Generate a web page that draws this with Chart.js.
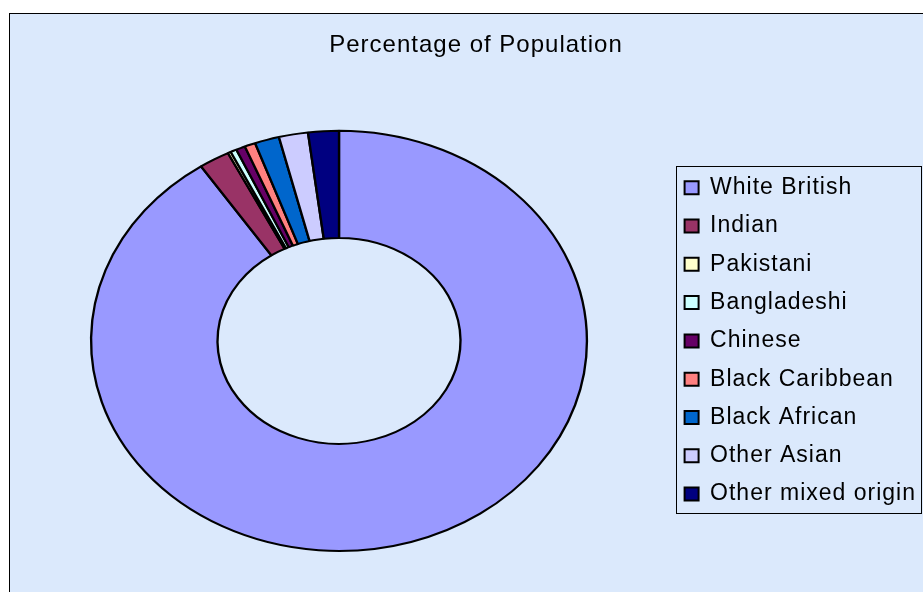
<!DOCTYPE html>
<html>
<head>
<meta charset="utf-8">
<script src="https://cdn.jsdelivr.net/npm/chart.js@4"></script>
<style>
  html, body { margin: 0; padding: 0; background: #fff; }
  #wrap { width: 923px; height: 592px; }
</style>
</head>
<body>
<div id="wrap"><canvas id="myChart"></canvas></div>
<script>
const labels = [
    "White British",
    "Indian",
    "Pakistani",
    "Bangladeshi",
    "Chinese",
    "Black Caribbean",
    "Black African",
    "Other Asian",
    "Other mixed origin"
];

const percentages = [90.7, 2.0, 0.2, 0.4, 0.6, 0.7, 1.6, 1.9, 2.0];

const colours = [
    '#9999ff',
    '#993366',
    '#ffffcc',
    '#ccffff',
    '#660066',
    '#ff8080',
    '#0066cc',
    '#ccccff',
    '#000080'
];

const ctx = document.getElementById('myChart').getContext('2d');

// excel style spacing between letters
const spacing = {
    id: 'spacing',
    beforeUpdate: (chart) => { chart.ctx.letterSpacing = '1px'; },
    beforeDraw: (chart) => { chart.ctx.letterSpacing = '1px'; }
};

// light blue chart area with its border, plus the legend frame
const frame = {
    id: 'frame',
    beforeDraw: (chart) => {
        const c = chart.ctx;
        c.save();
        c.fillStyle = '#fff';
        c.fillRect(0, 0, chart.width, chart.height);
        c.fillStyle = '#dbe9fc';
        c.fillRect(9.5, 13.5, chart.width + 10, chart.height + 10);
        c.strokeStyle = '#000';
        c.lineWidth = 1;
        c.strokeRect(9.5, 13.5, chart.width + 10, chart.height + 10);
        c.restore();
    },
    afterDraw: (chart) => {
        const boxes = chart.legend.legendHitBoxes;
        if (!boxes || !boxes.length) return;
        const first = boxes[0];
        const last = boxes[boxes.length - 1];
        const c = chart.ctx;
        c.save();
        c.strokeStyle = '#000';
        c.lineWidth = 1;
        const x0 = Math.round(first.left - 9) + 0.5;
        const y0 = Math.round(first.top - 10) + 0.5;
        const y1 = Math.round(last.top + last.height + 7) + 0.5;
        c.strokeRect(x0, y0, 921.5 - x0, y1 - y0);
        c.restore();
    }
};

// the excel doughnut is stretched sideways
const stretch = {
    id: 'stretch',
    beforeDatasetsDraw: (chart) => {
        const arc = chart.getDatasetMeta(0).data[0];
        const c = chart.ctx;
        c.save();
        c.translate(339, arc.y);
        c.scale(249 / 211, 1);
        c.translate(-arc.x, -arc.y);
    },
    afterDatasetsDraw: (chart) => {
        chart.ctx.restore();
    }
};

const data = {
    labels,
    datasets: [
        {
            data: percentages,
            label: "Percentage of Population",
            backgroundColor: colours,
            borderColor: '#000',
            borderWidth: 2
        }
    ]
};

const config = {
    type: 'doughnut',
    data: data,
    plugins: [spacing, frame, stretch],
    options: {
        responsive: true,
        maintainAspectRatio: false,
        animation: false,
        events: [],
        cutout: '49%',
        layout: {
            padding: { left: 26, right: -3, top: 0, bottom: 40 }
        },
        plugins: {
            title: {
                display: true,
                text: 'Percentage of Population',
                color: '#000',
                font: { family: "'Liberation Sans', Arial, sans-serif", size: 24, weight: 'normal' },
                padding: { top: 31, bottom: 70 }
            },
            legend: {
                position: 'right',
                fullSize: false,
                labels: {
                    color: '#000',
                    boxWidth: 14,
                    boxHeight: 13,
                    padding: 15.3,
                    font: { family: "'Liberation Sans', Arial, sans-serif", size: 23 }
                }
            },
            tooltip: { enabled: false }
        }
    }
};

const myChart = new Chart(ctx, config);
</script>
</body>
</html>
